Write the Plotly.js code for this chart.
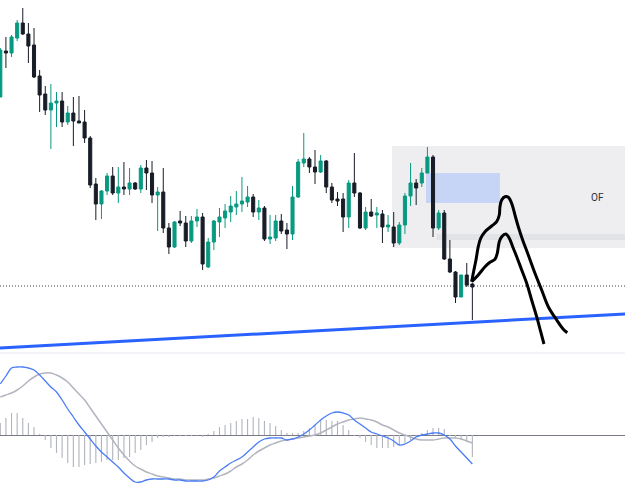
<!DOCTYPE html>
<html>
<head>
<meta charset="utf-8">
<script src="https://cdn.plot.ly/plotly-3.0.1.min.js"></script>
<style>
  html, body { margin: 0; padding: 0; background: #ffffff; }
  #chart { width: 625px; height: 494px; }
</style>
</head>
<body>
<div id="chart"></div>
<script>
// ---- Price candles (bar index, OHLC) ----
const candleIndex = Array.from({length: 85}, (_, i) => i);
const openP  = [403,449,447,462,477,466,455,424,406,390,397,399,378,387,379,378,362,316,296,309,324,307,313,311,317,311,332,327,305,308,272,253,279,277,259,279,283,233,258,278,282,288,293,296,298,303,288,292,261,262,279,270,266,303,337,341,333,328,339,313,301,301,283,317,307,272,288,285,286,273,273,257,275,304,317,317,327,343,272,287,241,228,203,225,216];
const highP  = [452,463,465,480,492,477,472,430,414,416,408,408,394,403,404,390,364,322,310,327,333,333,338,332,318,335,340,339,313,332,277,279,289,284,284,291,287,262,280,292,296,304,309,323,314,306,300,294,285,285,286,277,314,341,367,343,350,345,340,317,308,307,320,347,308,293,301,293,290,285,288,278,307,337,321,332,353,345,290,290,260,229,225,237,217];
const lowP   = [403,432,443,459,465,437,422,388,385,351,373,373,375,354,377,357,312,280,281,305,305,297,305,305,310,307,310,297,269,267,246,252,274,253,257,273,230,232,250,263,272,278,285,288,293,283,280,259,256,259,266,251,260,302,333,327,316,327,307,297,294,268,272,303,271,270,283,272,257,268,253,255,266,294,295,313,327,263,270,240,227,197,203,213,180];
const closeP = [450,447,463,477,466,454,423,405,390,397,399,378,387,379,377,362,315,296,309,324,307,313,311,317,311,332,327,305,308,272,253,278,277,259,279,283,236,258,279,283,289,294,296,299,303,288,292,261,263,279,269,266,303,338,341,333,328,339,313,300,299,283,317,307,272,288,284,287,273,275,257,275,304,317,312,327,343,272,287,241,228,203,225,215,213];

// ---- MACD pane ----
const macdLine   = [51,59,67,68,68,67,65,60,54,48,43,35,26,18,10,3,-4,-11,-17,-22,-27,-32,-38,-43,-47,-47,-45,-44,-44,-44,-44,-45,-45,-46,-46,-46,-46,-45,-42,-36,-32,-28,-25,-22,-17,-12,-7,-4,-3,-3,-3,-5,-4,-2,1,5,10,15,19,22,23,22,20,15,11,7,3,1,-1,-3,-6,-10,-9,-6,-2,0,1,2,2,0,-4,-11,-17,-23,-29];
const signalLine = [38,40,42,45,49,54,58,61,62,62,60,57,53,47,41,35,27,19,11,3,-5,-13,-20,-26,-31,-34,-37,-39,-41,-42,-43,-44,-44,-45,-45,-45,-45,-44,-43,-41,-39,-36,-32,-29,-25,-20,-16,-13,-10,-8,-6,-5,-4,-3,-2,-1,0,2,5,8,11,13,15,16,17,16,15,13,10,8,5,2,0,-2,-4,-5,-5,-5,-4,-3,-3,-3,-4,-6,-8];
const histogram  = [12,17,22,22,17,12,8,1,-5,-13,-18,-23,-28,-32,-32,-30,-29,-28,-27,-25,-25,-25,-23,-22,-18,-15,-10,-7,-3,-2,-2,-1,-1,-1,-1,-1,-2,1,4,8,10,12,14,16,16,18,17,14,12,9,5,2,2,2,4,7,10,15,15,14,14,10,5,-1,-3,-7,-10,-13,-13,-13,-12,-10,-8,-5,-2,2,5,7,7,6,-1,-3,-5,-7,-22];

// ---- Drawings (bar index / price) ----
const trendX = [-0.05, 111.16];
const trendY = [152, 186];
const sketchAX = [83.88,84.16,84.64,85.05,85.48,86.25,87.44,88.33,88.79,88.91,89.22,89.80,90.39,90.99,91.58,92.17,92.95,93.95,95.14,96.33,97.51,99.00,100.18,100.89];
const sketchAY = [218.3,226.7,240,253.3,261.7,268.3,274,278.3,285,293.3,300,303.3,302.7,296.7,285,273.3,260,245,226.7,210,193.3,180,170.7,167.3];
const sketchBX = [83.88,85.05,86.25,87.13,88.02,88.43,88.79,89.22,89.98,90.57,91.17,91.89,92.78,93.67,94.55,95.44,96.16,96.74];
const sketchBY = [218.3,225,233.3,237.7,240.7,246.7,258.3,263.3,266,261.7,253.3,243.3,230,216.7,200,183.3,168.3,156];
const levelPrice = 214;
const zoneBox = {x0: 69.7, x1: 111.2, y0: 252, y1: 354};
const zoneBand = {x0: 77.7, x1: 111.2, y0: 260, y1: 266};
const fvgBox = {x0: 75.75, x1: 88.9, y0: 297, y1: 327};
const zoneLabel = {text: 'OF', x: 106.2, y: 303};

const splitFrac = 1 - 353/494;

const traces = [
  {
    type: 'candlestick', x: candleIndex, open: openP, high: highP, low: lowP, close: closeP,
    xaxis: 'x', yaxis: 'y',
    increasing: {line: {color: '#089981', width: 1}, fillcolor: '#089981'},
    decreasing: {line: {color: '#181c27', width: 1}, fillcolor: '#181c27'},
    whiskerwidth: 0, hoverinfo: 'skip', showlegend: false
  },
  {
    type: 'scatter', mode: 'lines', x: trendX, y: trendY, xaxis: 'x', yaxis: 'y',
    line: {color: '#2962ff', width: 3}, hoverinfo: 'skip', showlegend: false
  },
  {
    type: 'scatter', mode: 'lines', x: sketchAX, y: sketchAY, xaxis: 'x', yaxis: 'y',
    line: {color: '#000000', width: 3, shape: 'spline', smoothing: 1}, hoverinfo: 'skip', showlegend: false
  },
  {
    type: 'scatter', mode: 'lines', x: sketchBX, y: sketchBY, xaxis: 'x', yaxis: 'y',
    line: {color: '#000000', width: 3, shape: 'spline', smoothing: 1}, hoverinfo: 'skip', showlegend: false
  },
  {
    type: 'bar', x: candleIndex, y: histogram, xaxis: 'x', yaxis: 'y2', width: 0.2,
    marker: {color: '#b2b5be', line: {width: 0}}, hoverinfo: 'skip', showlegend: false
  },
  {
    type: 'scatter', mode: 'lines', x: candleIndex, y: signalLine, xaxis: 'x', yaxis: 'y2',
    line: {color: '#b2b5be', width: 1.5, shape: 'spline'}, hoverinfo: 'skip', showlegend: false
  },
  {
    type: 'scatter', mode: 'lines', x: candleIndex, y: macdLine, xaxis: 'x', yaxis: 'y2',
    line: {color: '#4a7cf7', width: 1.3, shape: 'spline'}, hoverinfo: 'skip', showlegend: false
  }
];

const layout = {
  width: 625, height: 494,
  margin: {l: 0, r: 0, t: 0, b: 0, pad: 0},
  paper_bgcolor: '#ffffff', plot_bgcolor: '#ffffff',
  showlegend: false,
  boxgap: 0.22,
  xaxis: {range: [-0.053, 111.16], showgrid: false, zeroline: false, showticklabels: false,
          showline: false, ticks: '', rangeslider: {visible: false}, fixedrange: true},
  yaxis: {domain: [splitFrac, 1], range: [147, 500], showgrid: false, zeroline: false,
          showticklabels: false, ticks: '', fixedrange: true},
  yaxis2: {domain: [0, splitFrac], range: [-59, 82], showgrid: false, zeroline: true,
           zerolinecolor: '#787b86', zerolinewidth: 1, showticklabels: false, ticks: '', fixedrange: true},
  shapes: [
    {type: 'rect', xref: 'x', yref: 'y', x0: zoneBox.x0, x1: zoneBox.x1, y0: zoneBox.y0, y1: zoneBox.y1,
     fillcolor: '#eeeef1', line: {width: 0}, layer: 'below'},
    {type: 'rect', xref: 'x', yref: 'y', x0: zoneBand.x0, x1: zoneBand.x1, y0: zoneBand.y0, y1: zoneBand.y1,
     fillcolor: '#e2e3e7', line: {width: 0}, layer: 'below'},
    {type: 'rect', xref: 'x', yref: 'y', x0: fvgBox.x0, x1: fvgBox.x1, y0: fvgBox.y0, y1: fvgBox.y1,
     fillcolor: '#c6d4f6', line: {width: 0}, layer: 'below'},
    {type: 'line', xref: 'paper', yref: 'y', x0: 0, x1: 1, y0: levelPrice, y1: levelPrice,
     line: {color: '#3c3f48', width: 1, dash: '1px,2px'}, layer: 'below'},
    {type: 'line', xref: 'paper', yref: 'paper', x0: 0, x1: 1, y0: splitFrac, y1: splitFrac,
     line: {color: '#e6e8ee', width: 1}, layer: 'below'}
  ],
  annotations: [
    {x: zoneLabel.x, y: zoneLabel.y, xref: 'x', yref: 'y', text: zoneLabel.text, showarrow: false,
     font: {family: 'Roboto, Arial, sans-serif', size: 10, color: '#2a2e39'}}
  ]
};

Plotly.newPlot('chart', traces, layout, {staticPlot: true, displayModeBar: false});
</script>
</body>
</html>
